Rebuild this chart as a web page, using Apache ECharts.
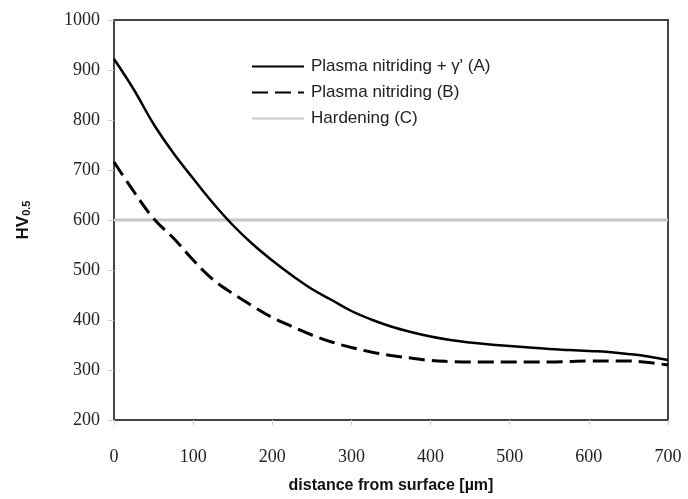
<!DOCTYPE html>
<html>
<head>
<meta charset="utf-8">
<script src="https://cdn.jsdelivr.net/npm/echarts@6/dist/echarts.min.js"></script>
<style>html,body{margin:0;padding:0;background:#fff}#c{width:688px;height:499px}</style>
</head>
<body>
<div id="c"></div>
<script>
var distances = [0,25,50,75,100,125,150,175,200,225,250,275,300,325,350,375,400,425,450,475,500,525,550,575,600,625,650,675,700];
var seriesA = [922,861,792,734,683,634,590,552,519,489,462,440,418,401,387,376,367,360,355,351,348,345,342,340,338,336,332,327,320];
var seriesB = [716,657,603,564,520,481,453,428,405,387,370,356,345,336,329,324,319,317,316,316,316,316,316,317,318,318,318,315,310];
var hardeningX = [0,700];
var hardeningY = [600,600];
var names = ["Plasma nitriding + \u03b3' (A)", "Plasma nitriding (B)", "Hardening (C)"];

function pairs(xs, ys){ return xs.map(function(x,i){ return [x, ys[i]]; }); }

var chart = echarts.init(document.getElementById('c'));
chart.setOption({
  animation:false,
  backgroundColor:'#fff',
  grid:{left:114,right:20,top:20,bottom:76,show:true,borderColor:'#444',borderWidth:2},
  legend:{
    orient:'vertical', left:246, top:53, itemGap:9, itemWidth:52, itemHeight:16,
    data:names,
    itemStyle:{opacity:0},
    textStyle:{fontFamily:'Liberation Sans, Arial',fontSize:17,color:'#222',padding:[0,0,0,2]}
  },
  xAxis:{
    type:'value', min:0, max:700, interval:100,
    name:'distance from surface [\u00b5m]', nameLocation:'middle', nameGap:58,
    nameTextStyle:{fontFamily:'Liberation Sans, Arial',fontWeight:'bold',fontSize:16,color:'#111'},
    axisLine:{show:true,lineStyle:{color:'#444',width:2}},
    axisTick:{show:true,inside:false,length:5,lineStyle:{color:'#ccc'}},
    axisLabel:{margin:28,fontFamily:'Liberation Serif, Times New Roman',fontSize:18,color:'#222'},
    splitLine:{show:false}
  },
  yAxis:{
    type:'value', min:200, max:1000, interval:100,
    name:'{a|HV}{b|0.5}', nameLocation:'middle', nameGap:82, nameRotate:90,
    nameTextStyle:{rich:{
      a:{fontFamily:'Liberation Sans, Arial',fontWeight:'bold',fontSize:17,color:'#111',verticalAlign:'bottom',lineHeight:20},
      b:{fontFamily:'Liberation Sans, Arial',fontWeight:'bold',fontSize:11,color:'#111',verticalAlign:'bottom',lineHeight:12}
    }},
    axisLine:{show:true,lineStyle:{color:'#444',width:2}},
    axisTick:{show:true,inside:false,length:6,lineStyle:{color:'#ccc'}},
    axisLabel:{margin:14,fontFamily:'Liberation Serif, Times New Roman',fontSize:18,color:'#222',
      formatter:function(v){return String(v);}},
    splitLine:{show:false}
  },
  series:[
    {name:names[2],type:'line',symbol:'none',data:pairs(hardeningX,hardeningY),z:1,
     lineStyle:{color:'#c8c8c8',width:3},itemStyle:{color:'#c8c8c8'}},
    {name:names[0],type:'line',symbol:'none',smooth:0.4,data:pairs(distances,seriesA),z:3,
     lineStyle:{color:'#000',width:2.5},itemStyle:{color:'#000'}},
    {name:names[1],type:'line',symbol:'none',smooth:0.4,data:pairs(distances,seriesB),z:2,
     lineStyle:{color:'#000',width:3,type:[16,7]},itemStyle:{color:'#000'}}
  ]
});
</script>
</body>
</html>
